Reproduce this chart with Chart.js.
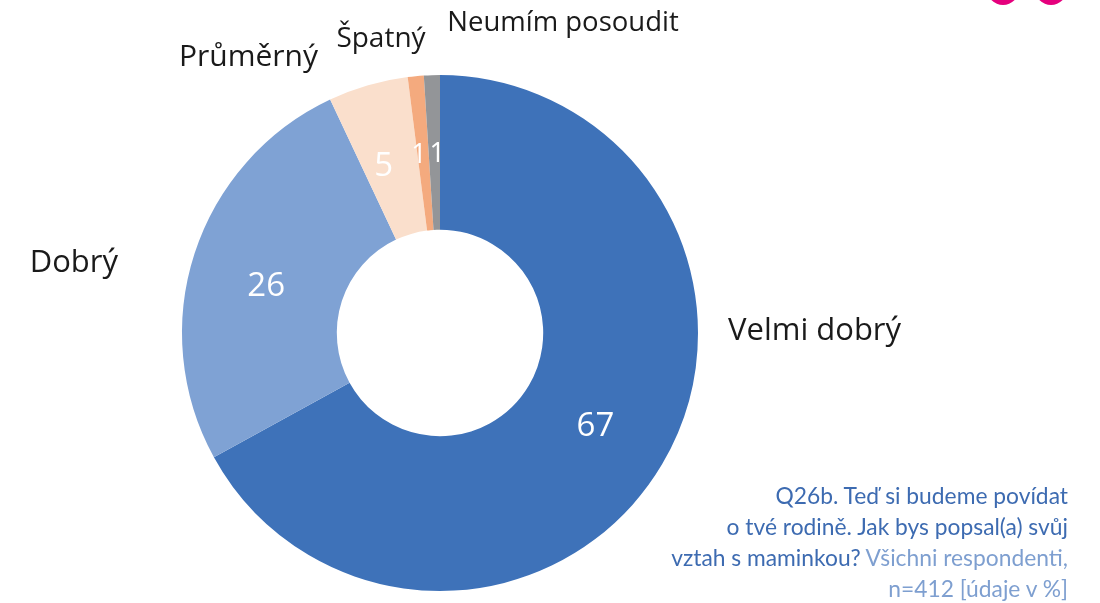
<!DOCTYPE html>
<html>
<head>
<meta charset="utf-8">
<script src="https://cdn.jsdelivr.net/npm/chart.js@4"></script>
<style>
    html, body { margin: 0; padding: 0; background: #fff; }
    #wrap { position: relative; width: 1100px; height: 603px; overflow: hidden; }
    #chart { position: absolute; left: 0; top: 0; }
    .dot { position: absolute; width: 32px; height: 32px; border-radius: 50%; background: #E5007D; top: -27px; }
    #note {
        position: absolute; right: 32px; top: 480px; width: 460px;
        text-align: right; font-family: Lato, "Open Sans", sans-serif; font-size: 22.8px; line-height: 31px;
        color: #7E9FD0;
    }
    #note b { font-weight: normal; color: #3D6BB1; }
</style>
</head>
<body>
<div id="wrap">
    <canvas id="chart" width="1100" height="603"></canvas>
    <div class="dot" style="left:987px"></div>
    <div class="dot" style="left:1035px"></div>
    <div id="note"><b>Q26b. Teď si budeme povídat<br>o tvé rodině. Jak bys popsal(a) svůj<br>vztah s maminkou?</b> Všichni respondenti,<br>n=412 [údaje v %]</div>
</div>
<script>
// chart data
const categories = ['Velmi dobrý', 'Dobrý', 'Průměrný', 'Špatný', 'Neumím posoudit'];
const values = [67, 26, 5, 1, 1];
const sliceColors = ['#3E72B9', '#7FA2D4', '#FADFCC', '#F4AA7E', '#939598'];

// where the outer category labels sit, relative to the doughnut centre
const outerLabels = [
    { dx: 288, dy: -2, align: 'left', size: 31 },
    { dx: -322, dy: -70, align: 'right', size: 31 },
    { dx: -122, dy: -276, align: 'right', size: 30 },
    { dx: -59, dy: -294, align: 'center', size: 28 },
    { dx: 123, dy: -310, align: 'center', size: 27.5 }
];
// small nudges for the value labels, as Excel placed them
const valueNudge = [[0, 0], [-2, 7], [-6, 5], [-4, 0], [3, 0]];

const fontFamily = '"Open Sans", Lato, sans-serif';

/**
 * Draws the values inside the slices and the category names around the ring
 */
const sliceLabels = {
    id: 'sliceLabels',
    afterDatasetsDraw(chart) {
        const ctx = chart.ctx;
        const arcs = chart.getDatasetMeta(0).data;
        ctx.save();
        ctx.textBaseline = 'middle';
        arcs.forEach((arc, i) => {
            const pos = arc.tooltipPosition();
            ctx.fillStyle = '#FFFFFF';
            ctx.textAlign = 'center';
            ctx.font = (values[i] < 2 ? '27px ' : '33px ') + fontFamily;
            ctx.fillText(String(values[i]), pos.x + valueNudge[i][0], pos.y + 2 + valueNudge[i][1]);

            const o = outerLabels[i];
            ctx.fillStyle = '#1A1A1A';
            ctx.textAlign = o.align;
            ctx.font = o.size + 'px ' + fontFamily;
            ctx.fillText(categories[i], arc.x + o.dx, arc.y + o.dy);
        });
        ctx.restore();
    }
};

new Chart(document.getElementById('chart'), {
    type: 'doughnut',
    data: {
        labels: categories,
        datasets: [{
            data: values,
            backgroundColor: sliceColors,
            borderWidth: 0
        }]
    },
    options: {
        responsive: false,
        animation: false,
        cutout: '40%',
        layout: { padding: { left: 182, right: 402, top: 75, bottom: 12 } },
        plugins: {
            legend: { display: false },
            tooltip: { enabled: false },
            title: { display: false }
        }
    },
    plugins: [sliceLabels]
});
</script>
</body>
</html>
